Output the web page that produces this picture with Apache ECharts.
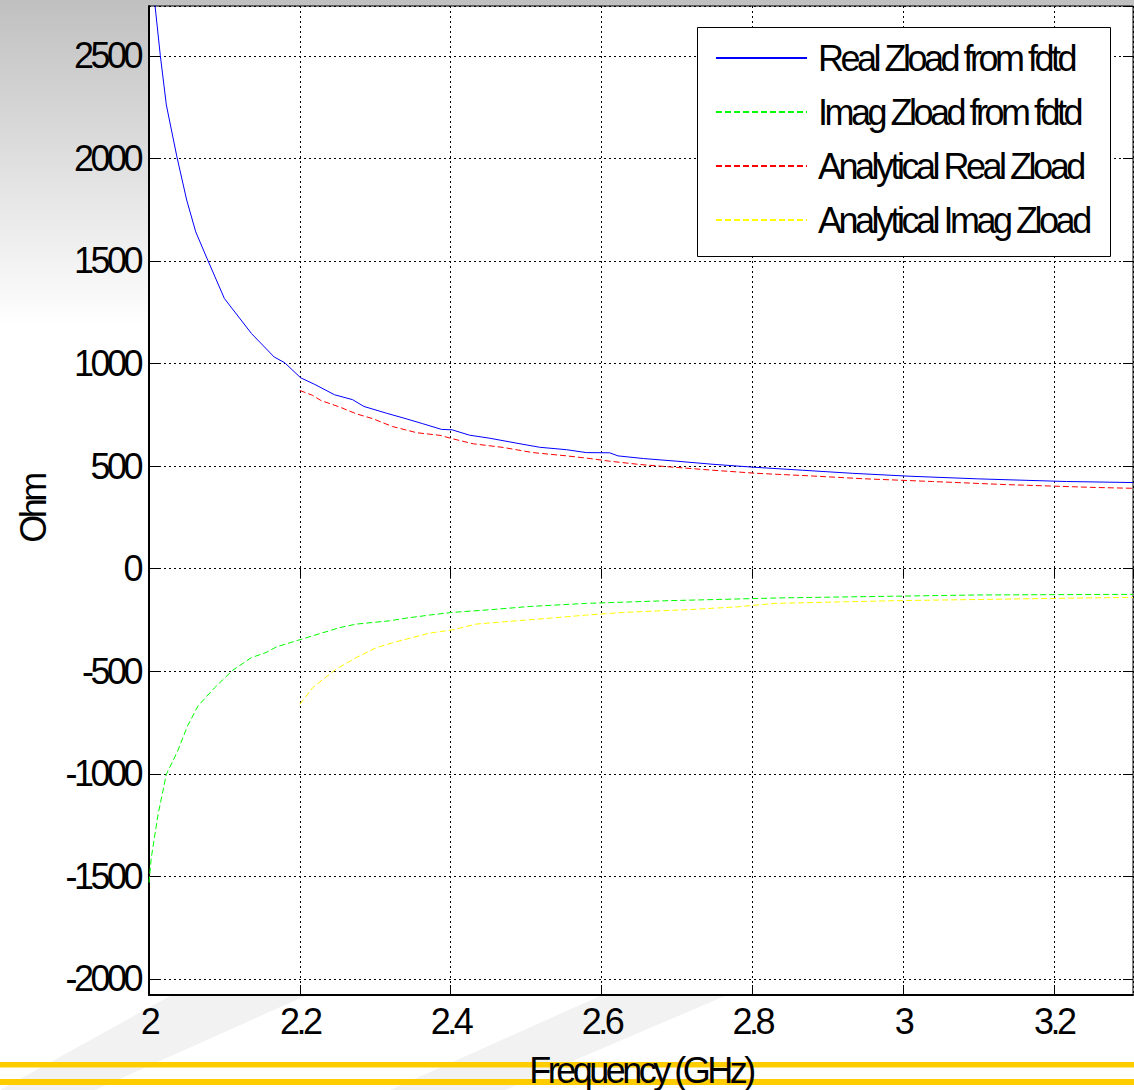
<!DOCTYPE html>
<html>
<head>
<meta charset="utf-8">
<script src="https://cdn.jsdelivr.net/npm/echarts@6/dist/echarts.min.js"></script>
<style>
  html, body { margin: 0; padding: 0; background: #fff; }
  #chart { width: 1134px; height: 1090px; }
  #chart svg text { letter-spacing: -3.5px; }
</style>
</head>
<body>
<div id="chart"></div>
<script>
// ---- data ----
const seriesNames = ['Real Zload from fdtd', 'Imag Zload from fdtd', 'Analytical Real Zload', 'Analytical Imag Zload'];

const realFdtdFreq = [2.000, 2.008, 2.015, 2.023, 2.037, 2.050, 2.062, 2.077, 2.100, 2.136, 2.166, 2.180, 2.201, 2.220, 2.246, 2.270, 2.285, 2.315, 2.341, 2.363, 2.388, 2.402, 2.425, 2.452, 2.492, 2.518, 2.554, 2.580, 2.611, 2.622, 2.656, 2.700, 2.748, 2.801, 2.867, 2.933, 3.008, 3.099, 3.217, 3.305];
const realFdtdOhm  = [3050, 2744, 2502, 2261, 2008, 1797, 1642, 1512, 1317, 1146, 1032, 1004, 931, 898, 848, 824, 791, 758, 731, 707, 679, 677, 651, 636, 609, 592, 580, 566, 565, 550, 537, 524, 509, 495, 480, 465, 451, 438, 425, 420];

const imagFdtdFreq = [2.000, 2.003, 2.012, 2.023, 2.038, 2.051, 2.065, 2.087, 2.111, 2.136, 2.155, 2.169, 2.201, 2.253, 2.275, 2.319, 2.341, 2.372, 2.402, 2.452, 2.505, 2.580, 2.687, 2.841, 3.099, 3.305];
const imagFdtdOhm  = [-1530, -1410, -1198, -1002, -889, -767, -669, -580, -495, -433, -409, -381, -345, -287, -270, -254, -241, -226, -213, -200, -184, -169, -156, -142, -128, -125];

const anaRealFreq = [2.200, 2.217, 2.228, 2.253, 2.275, 2.297, 2.323, 2.355, 2.386, 2.403, 2.430, 2.470, 2.509, 2.554, 2.585, 2.611, 2.651, 2.695, 2.748, 2.806, 2.874, 2.951, 3.039, 3.137, 3.255, 3.305];
const anaRealOhm  = [869, 845, 820, 788, 755, 731, 693, 663, 650, 633, 609, 591, 566, 550, 537, 524, 508, 495, 480, 465, 453, 438, 425, 410, 396, 392];

const anaImagFreq = [2.200, 2.217, 2.231, 2.248, 2.275, 2.302, 2.328, 2.372, 2.403, 2.434, 2.487, 2.532, 2.580, 2.629, 2.718, 2.780, 2.830, 2.987, 3.251, 3.305];
const anaImagOhm  = [-661, -580, -539, -490, -433, -384, -356, -314, -298, -270, -254, -241, -226, -213, -199, -186, -169, -156, -142, -140];

const xTickStep = 0.2;
const xMin = 2, xMax = 3.305;
const yMin = -2078, yMax = 2743;

// ---- chart ----
const FONT = "'Liberation Sans',Arial,sans-serif";
const pairs = (xs, ys) => xs.map((x, i) => [x, ys[i]]);

const chart = echarts.init(document.getElementById('chart'), null, { renderer: 'svg' });

const lineSeries = (name, xs, ys, color, type) => ({
  name, type: 'line', data: pairs(xs, ys), symbol: 'none', showSymbol: false,
  clip: true, xAxisIndex: 0, yAxisIndex: 0,
  lineStyle: { color, width: 1, type }, itemStyle: { color }, z: 3
});

const option = {
  animation: false,
  backgroundColor: {
    type: 'linear', x: 0, y: 0, x2: 0, y2: 1,
    colorStops: [{ offset: 0, color: '#c0c0c0' }, { offset: 0.3, color: '#ffffff' }, { offset: 1, color: '#ffffff' }]
  },
  graphic: [
    { type: 'polygon', z: -10, shape: { points: [[170, 996], [305, 996], [95, 1090], [0, 1090]] }, style: { fill: '#f2f2f2' } },
    { type: 'polygon', z: -10, shape: { points: [[600, 996], [725, 996], [505, 1090], [390, 1090]] }, style: { fill: '#f2f2f2' } },
    { type: 'rect', z: -9, shape: { x: 0, y: 1062, width: 1134, height: 5.5 }, style: { fill: '#ffcc00' } },
    { type: 'rect', z: -9, shape: { x: 0, y: 1079, width: 1134, height: 6 }, style: { fill: '#ffcc00' } },
    // legend frame
    { type: 'rect', z: 4, shape: { x: 697.5, y: 27.5, width: 413, height: 229 }, style: { fill: '#ffffff', stroke: '#000', lineWidth: 1 } }
  ],
  grid: { left: 149, top: 6, right: 1, bottom: 95, outerBoundsMode: 'none', containLabel: false,
    show: true, backgroundColor: '#ffffff', borderColor: '#000', borderWidth: 1 },
  legend: {
    orient: 'vertical', left: 697, top: 27, selectedMode: false, z: 6,
    backgroundColor: 'transparent', borderWidth: 0,
    padding: [13, 12, 18, 18], itemWidth: 91, itemHeight: 14, itemGap: 18,
    itemStyle: { opacity: 0, borderWidth: 0 },
    textStyle: { fontFamily: FONT, fontSize: 36, color: '#000', lineHeight: 36, padding: [0, 0, 0, 6] },
    data: seriesNames
  },
  xAxis: [{
    type: 'value', min: xMin, max: xMax, interval: xTickStep, position: 'bottom',
    name: 'Frequency (GHz)', nameLocation: 'middle', nameGap: 57,
    nameTextStyle: { fontFamily: FONT, fontSize: 36, color: '#000' },
    axisLine: { show: true, onZero: false, lineStyle: { color: '#000', width: 2 } },
    axisTick: { show: true, inside: true, length: 10, lineStyle: { color: '#000', width: 1 } },
    axisLabel: { fontFamily: FONT, fontSize: 36, color: '#000', margin: 8, showMaxLabel: false,
      formatter: v => String(+v.toFixed(2)) },
    splitLine: { show: true, lineStyle: { color: '#000', width: 1, type: [2, 3] } }
  }, {
    type: 'value', min: xMin, max: xMax, interval: xTickStep, position: 'top',
    axisLine: { show: false }, axisLabel: { show: false }, splitLine: { show: false },
    axisTick: { show: true, inside: true, length: 10, lineStyle: { color: '#000', width: 1 } }
  }],
  yAxis: [{
    type: 'value', min: yMin, max: yMax, splitNumber: 10, position: 'left',
    name: 'Ohm', nameLocation: 'middle', nameGap: 98, nameRotate: 90, nameMoveOverlap: false,
    nameTextStyle: { fontFamily: FONT, fontSize: 36, color: '#000', padding: [0, 17, 0, 0] },
    axisLine: { show: true, onZero: false, lineStyle: { color: '#000', width: 2 } },
    axisTick: { show: true, inside: true, length: 10, lineStyle: { color: '#000', width: 1 } },
    axisLabel: { fontFamily: FONT, fontSize: 36, color: '#000', margin: 9, showMinLabel: false, showMaxLabel: false,
      formatter: v => String(v) },
    splitLine: { show: true, lineStyle: { color: '#000', width: 1, type: [2, 3] } }
  }, {
    type: 'value', min: yMin, max: yMax, splitNumber: 10, position: 'right',
    axisLine: { show: false }, axisLabel: { show: false }, splitLine: { show: false },
    axisTick: { show: true, inside: true, length: 10, lineStyle: { color: '#000', width: 1 } }
  }],
  series: [
    lineSeries(seriesNames[0], realFdtdFreq, realFdtdOhm, '#0000ff', 'solid'),
    lineSeries(seriesNames[1], imagFdtdFreq, imagFdtdOhm, '#00ff00', [6, 3]),
    lineSeries(seriesNames[2], anaRealFreq, anaRealOhm, '#ff0000', [6, 3]),
    lineSeries(seriesNames[3], anaImagFreq, anaImagOhm, '#ffff00', [6, 3])
  ]
};

chart.setOption(option);
</script>
</body>
</html>
